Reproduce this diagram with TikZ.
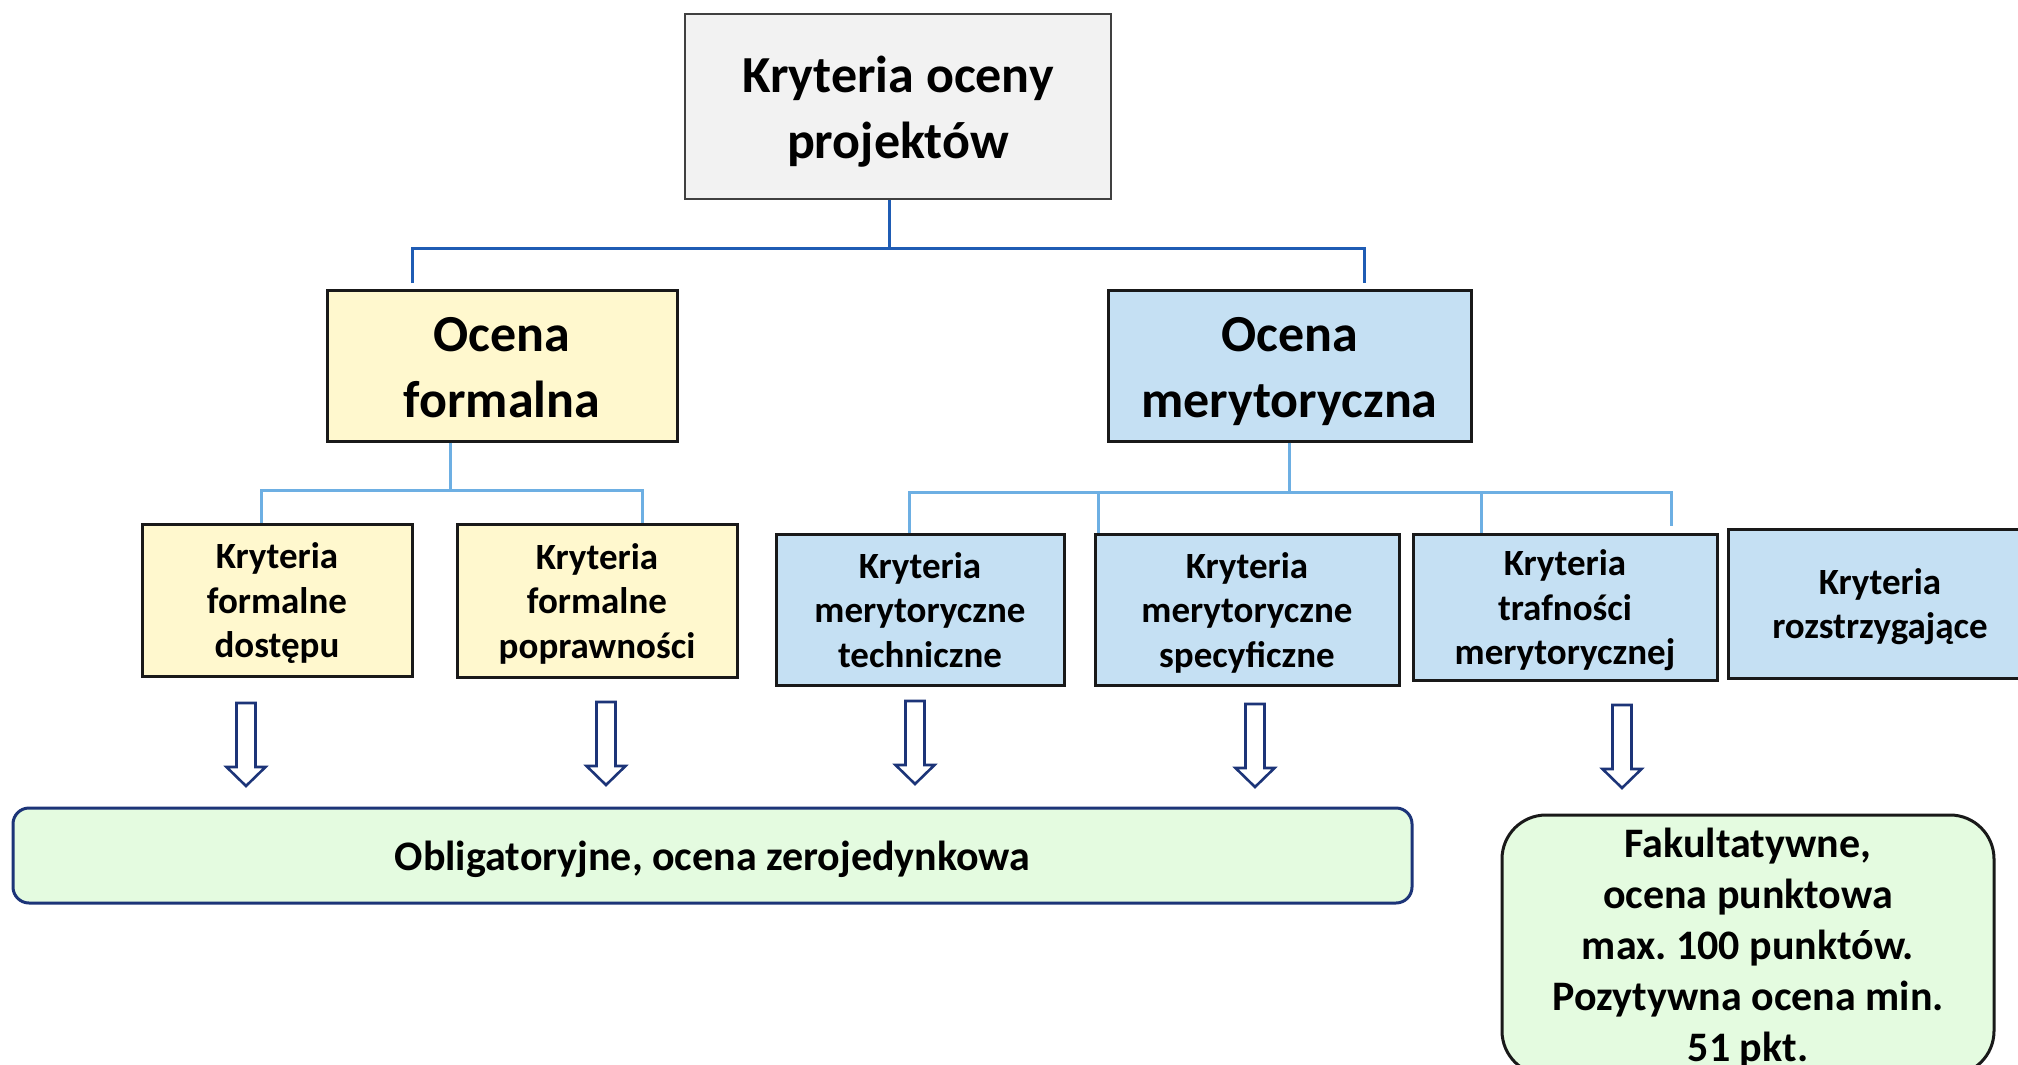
\documentclass[tikz,border=0pt]{standalone}
\usepackage{fontspec}
\setmainfont{Carlito}
\frenchspacing
\definecolor{szary}{HTML}{F2F2F2}
\definecolor{zolty}{HTML}{FFF8CE}
\definecolor{niebieski}{HTML}{C5E0F3}
\definecolor{zielony}{HTML}{E4FBE0}
\definecolor{ciemnyn}{HTML}{1F5CB4}
\definecolor{jasnyn}{HTML}{6DAFE3}
\definecolor{granat}{HTML}{1C3478}
% stala wysokosc wiersza jak w Calibri
\newcommand{\wys}{1em}
\newcommand{\gora}{\rule{0pt}{\wys}}
\newcommand{\dol}{\rule[-0.269em]{0pt}{0pt}}

\begin{document}
\begin{tikzpicture}[x=0.5pt,y=-0.5pt,
  pole/.style={draw=black!90,line width=1.5pt,inner sep=0pt,align=center},
  duze/.style={pole,font=\bfseries\fontsize{26}{32.8}\selectfont\def\wys{1.0em}},
  male/.style={pole,font=\bfseries\fontsize{18.5}{22.3}\selectfont\def\wys{0.98em},minimum height=75.5pt},
  wynik/.style={pole,rounded corners,fill=zielony,font=\bfseries\fontsize{21}{25.5}\selectfont\def\wys{#1}},
  ciemna/.style={draw=ciemnyn,line width=1.5pt},
  jasna/.style={draw=jasnyn,line width=1.5pt},
  strzalka/.style={draw=granat,fill=white,line width=1.3pt}]
\useasboundingbox (0,0) rectangle (2018,1065);
\path (898,106.5) node[duze,draw=black!75,line width=1pt,fill=szary,minimum width=213pt,minimum height=92.5pt] (kr) {\gora Kryteria oceny\\projektów\dol};
% ocena formalna / merytoryczna
\path (502,365.5) node[duze,fill=zolty,minimum width=175pt,minimum height=75.5pt] (of) {\gora Ocena\\formalna\dol};
\path (1289.5,365.5) node[duze,fill=niebieski,minimum width=181.5pt,minimum height=75.5pt] (om) {\gora Ocena\\merytoryczna\dol};
\coordinate (t0) at (889,248);
\coordinate (tl) at (412,283);
\coordinate (tr) at (1364,283);
\draw[ciemna] (t0 |- kr.south) -- (t0);
\draw[ciemna] (tl) -- (tl |- t0) -- (tr |- t0) -- (tr);
% kryteria formalne
\path (277,600) node[male,fill=zolty,minimum width=135pt,minimum height=76pt] (f1) {\gora Kryteria\\formalne\\dostępu\dol};
\path (597,600.5) node[male,fill=zolty,minimum width=140pt,minimum height=76.5pt] (f2) {\gora Kryteria\\formalne\\poprawności\dol};
\coordinate (fj) at (450,490);
\coordinate (fl) at (261,490);
\coordinate (fr) at (642,490);
\draw[jasna] (fj |- of.south) -- (fj);
\draw[jasna] (fl |- f1.north) -- (fl) -- (fr) -- (fr |- f2.north);
% kryteria merytoryczne
\path (920,609.5) node[male,fill=niebieski,minimum width=144pt] (m1) {\gora Kryteria\\merytoryczne\\techniczne\dol};
\path (1247,609.5) node[male,fill=niebieski,minimum width=152pt] (m2) {\gora Kryteria\\merytoryczne\\specyficzne\dol};
\path (1565,607) node[male,fill=niebieski,minimum width=152pt,minimum height=73pt] (m3) {\gora Kryteria\\trafności\\merytorycznej\dol};
\path (1880,603.5) node[male,fill=niebieski,minimum width=152pt,minimum height=74.5pt] (m4) {\gora Kryteria\\rozstrzygające\dol};
\coordinate (ml) at (909,492);
\coordinate (ms) at (1098,492);
\coordinate (mt) at (1481,492);
\coordinate (mr) at (1671,492);
\coordinate (me) at (1671,526);
\draw[jasna] (om.south) -- (om.south |- ml);
\draw[jasna] (ml |- m1.north) -- (ml) -- (mr) -- (me);
\draw[jasna] (ms) -- (ms |- m2.north);
\draw[jasna] (mt) -- (mt |- m3.north);
% strzalki
\foreach \ax/\ay in {246/703,606/702,915/701,1255/704,1622/705}
  \draw[strzalka] (\ax-9.5,\ay) -- (\ax+9.5,\ay) -- (\ax+9.5,\ay+64) -- (\ax+19.5,\ay+64)
    -- (\ax,\ay+83) -- (\ax-19.5,\ay+64) -- (\ax-9.5,\ay+64) -- cycle;
% wyniki
\path (712.5,855.5) node[wynik=1.0em,draw=granat,rounded corners=8pt,minimum width=699.5pt,minimum height=47.5pt] (ob) {\gora Obligatoryjne, ocena zerojedynkowa\dol};
\path (1748,945) node[wynik=0.95em,rounded corners=22pt,minimum width=246pt,minimum height=130pt] (fa) {\gora Fakultatywne,\\ocena punktowa\\max. 100 punktów.\\Pozytywna ocena min.\\51 pkt.\dol};
\end{tikzpicture}
\end{document}
